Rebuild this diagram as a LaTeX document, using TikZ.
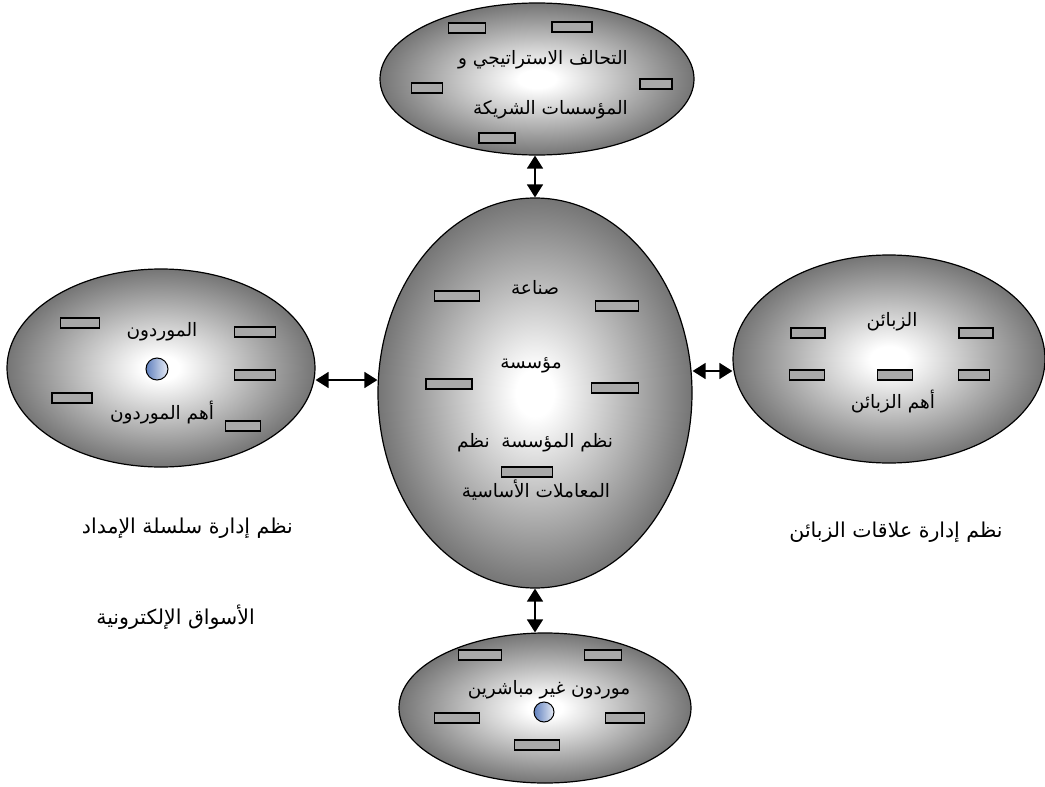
\documentclass[tikz,border=0pt]{standalone}
\usepackage{fontspec}
\newfontfamily\arabicfont[Script=Arabic]{DejaVu Sans}
\TeXXeTstate=1
\usetikzlibrary{shapes.geometric,arrows.meta}

% white core fading to mid grey at the rim
\pgfdeclareradialshading{glow}{\pgfpoint{0bp}{0bp}}{%
  color(0bp)=(white); color(3bp)=(white);
  color(25bp)=(gray!92!black); color(50bp)=(gray!92!black)}

\definecolor{dotblue}{RGB}{96,128,190}

\tikzset{
  blob/.style={ellipse, draw, line width=1.2pt, shading=glow, inner sep=0pt},
  tag/.style={draw, line width=1.1pt, fill=gray!68, minimum width=#1,
              minimum height=10pt, inner sep=0pt},
  tag/.default=38pt,
  dot/.style={circle, draw, line width=1pt, minimum size=#1, inner sep=0pt,
              left color=dotblue, right color=white!85!dotblue},
  dot/.default=22pt,
  lbl/.style={inner sep=0pt, font=\arabicfont\fontsize{18.5}{21}\selectfont},
  captext/.style={inner sep=0pt, font=\arabicfont\fontsize{20.5}{23}\selectfont},
  dbl/.style={{Triangle[width=16pt,length=13pt]}-{Triangle[width=16pt,length=13pt]},
              line width=1.6pt}
}

\begin{document}
\begin{tikzpicture}[x=1pt,y=-1pt]
\useasboundingbox (0,0) rectangle (1045,787);

% the five groups
\node[blob, minimum width=314pt, minimum height=152pt] (top)    at (537,79)  {};
\node[blob, minimum width=314pt, minimum height=390pt] (core)   at (535,393) {};
\node[blob, minimum width=308pt, minimum height=198pt] (left)   at (161,368) {};
\node[blob, minimum width=312pt, minimum height=208pt] (right)  at (889,359) {};
\node[blob, minimum width=292pt, minimum height=150pt] (bottom) at (545,708) {};

% partners
\node[tag=37pt] (t1) at (467,28)  {};
\node[tag=40pt] (t2) at (572,27)  {};
\node[tag=31pt] (t3) at (427,88)  {};
\node[tag=32pt] (t4) at (656,84)  {};
\node[tag=36pt] (t5) at (497,138) {};
\node[lbl, anchor=east] (tx1) at (628,60)  {\beginR التحالف الاستراتيجي و\endR};
\node[lbl, anchor=east] (tx2) at (628,110) {\beginR المؤسسات الشريكة\endR};

% suppliers
\node[tag=39pt] (l1) at (80,323)  {};
\node[tag=41pt] (l2) at (255,332) {};
\node[tag=41pt] (l3) at (255,375) {};
\node[tag=40pt] (l4) at (72,398)  {};
\node[tag=35pt] (l5) at (243,426) {};
\node[dot] (ld) at (157,369) {};
\node[lbl] (lx1) at (162,332) {\beginR الموردون\endR};
\node[lbl] (lx2) at (162,413) {\beginR أهم الموردون\endR};

% customers
\node[tag=34pt] (r1) at (808,333) {};
\node[tag=34pt] (r2) at (976,333) {};
\node[tag=35pt] (r3) at (807,375) {};
\node[tag=35pt] (r4) at (895,375) {};
\node[tag=31pt] (r5) at (974,375) {};
\node[lbl] (rx1) at (892,322) {\beginR الزبائن\endR};
\node[lbl] (rx2) at (893,402) {\beginR أهم الزبائن\endR};

% the enterprise
\node[tag=45pt] (c1) at (457,296) {};
\node[tag=43pt] (c2) at (617,306) {};
\node[tag=46pt] (c3) at (449,384) {};
\node[tag=47pt] (c4) at (615,388) {};
\node[tag=51pt] (c5) at (527,472) {};
\node[lbl] (cx1) at (535,287) {\beginR صناعة\endR};
\node[lbl] (cx2) at (531,365) {\beginR مؤسسة\endR};
\node[lbl] (cx3) at (535,443) {\beginR نظم المؤسسة\ \ نظم\endR};
\node[lbl] (cx4) at (536,490) {\beginR المعاملات الأساسية\endR};

% indirect suppliers
\node[tag=43pt] (b1) at (480,655) {};
\node[tag=37pt] (b2) at (603,655) {};
\node[tag=45pt] (b3) at (457,718) {};
\node[tag=39pt] (b4) at (625,718) {};
\node[tag=45pt] (b5) at (537,745) {};
\node[dot=20pt] (bd) at (544,712) {};
\node[lbl] (bx1) at (549,690) {\beginR موردون غير مباشرين\endR};

% captions outside the groups
\node[captext] (cap1) at (896,532) {\beginR نظم إدارة علاقات الزبائن\endR};
\node[captext, anchor=east] (cap2) at (293,528) {\beginR نظم إدارة سلسلة الإمداد\endR};
\node[captext, anchor=east] (cap3) at (255,617) {\beginR الأسواق الإلكترونية\endR};

% links
\draw[dbl] (core.north) -- (core.north |- top.south);
\draw[dbl] (core.south) -- (core.south |- bottom.north);
\draw[dbl] ([yshift=-12pt]left.east) -- ([yshift=-12pt]left.east -| core.west);
\draw[dbl] ([yshift=-12pt]right.west) -- ([yshift=-12pt]right.west -| core.east);
\end{tikzpicture}
\end{document}
